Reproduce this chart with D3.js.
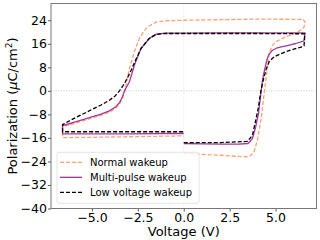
<!DOCTYPE html>
<html>
<head>
<meta charset="utf-8">
<script src="https://cdn.jsdelivr.net/npm/d3@7"></script>
<style>
  body { margin: 0; background: #fff; }
  svg { display: block; font-family: "DejaVu Sans", sans-serif; }
</style>
</head>
<body>
<div id="chart"></div>
<script>
// Normal wakeup (orange dashed)
const normalV = [0, 1, 2, 3, 3.45, 3.6, 3.83, 4.01, 4.2, 4.38, 4.47, 4.65, 4.8, 5.01, 5.55, 6.1, 6.46, 6.55, 6.6, 6.5,
  4, 2, 0, -1, -1.5, -1.96, -2.2, -2.42, -2.69, -2.96, -3.1, -3.2, -3.35, -3.55, -3.8, -4.05, -4.5, -4.96, -5.4, -5.86, -6.2, -6.6,
  -6.6, -5, -3, -1, 0];
const normalP = [-21.3, -21.6, -21.9, -22.3, -22.4, -22.2, -20.7, -16.8, -10, -0.9, 3.6, 12.7, 15.2, 16.7, 18.4, 19.5, 21.2, 21.6, 23.5, 24.3,
  24.4, 24.2, 24.0, 23.8, 23.4, 21.8, 20, 17.8, 13.3, 7.6, 3.5, 0, -2.8, -4.9, -6.3, -7.2, -8.3, -9.2, -10.0, -10.9, -11.5, -12.1,
  -15.9, -15.8, -15.6, -15.4, -15.3];

// Multi-pulse wakeup (purple solid)
const multiV = [0, 1, 2, 3, 3.5, 3.74, 3.92, 4.07, 4.2, 4.29, 4.38, 4.47, 4.55, 4.65, 4.83, 5.05, 5.37, 5.7, 6.1, 6.55, 6.6,
  6, 4, 2, 0, -1, -1.5, -1.88, -2.33, -2.69, -2.96, -3.1, -3.23, -3.35, -3.5, -3.7, -4.05, -4.5, -4.96, -5.4, -5.86, -6.2, -6.6,
  -6.6, -5, -3, -1, 0];
const multiP = [-17.9, -18.0, -18.1, -18.1, -17.9, -16.2, -12.2, -7.7, -0.9, 3.6, 6.5, 9, 11, 12.5, 13.8, 14.5, 15, 15.5, 16.1, 17, 19.7,
  19.7, 19.7, 19.7, 19.6, 19.6, 19.3, 17.8, 14.4, 8.7, 3.1, 1.5, 0, -2.2, -4.0, -5.4, -6.8, -7.9, -8.8, -9.6, -10.5, -11.1, -11.8,
  -14.6, -14.6, -14.6, -14.5, -14.5];

// Low voltage wakeup (black dashed)
const lowV = [0, 2, 3.47, 3.74, 3.92, 4.07, 4.2, 4.35, 4.5, 4.65, 4.92, 5.55, 6.0, 6.46, 6.55, 6.6,
  4, 2, 0, -1, -1.5, -1.88, -2.33, -2.69, -2.85, -3.05, -3.25, -3.5, -3.75, -4.05, -4.5, -4.96, -5.4, -5.86, -6.2, -6.6,
  -6.6, -5, -3, -1, 0];
const lowP = [-17.6, -17.6, -17.2, -15.1, -10, -5.5, 0, 4.2, 7.5, 9.9, 11.6, 13.3, 14.2, 15, 15.3, 19.4,
  19.5, 19.5, 19.5, 19.5, 19.2, 17.8, 14.4, 9.5, 7.2, 4.6, 2.3, 0, -1.8, -3.2, -4.8, -6.2, -7.6, -9.0, -10.1, -11.5,
  -13.9, -13.9, -13.9, -13.9, -13.9];

const xTicks = [-5, -2.5, 0, 2.5, 5];
const yTicks = [-40, -32, -24, -16, -8, 0, 8, 16, 24];

const series = [
  { name: "Normal wakeup", v: normalV, p: normalP, color: "#ffa072", dash: "4,2", width: 1.3 },
  { name: "Multi-pulse wakeup", v: multiV, p: multiP, color: "#a13a98", dash: null, width: 1.3 },
  { name: "Low voltage wakeup", v: lowV, p: lowP, color: "#000000", dash: "4,2", width: 1.3 }
];

const W = 320, H = 240;
const margin = { top: 3.5, right: 3.5, bottom: 31.5, left: 51 };
const width = W - margin.left - margin.right,
      height = H - margin.top - margin.bottom;

const svg = d3.select("#chart").append("svg")
  .attr("width", W).attr("height", H);

const g = svg.append("g")
  .attr("transform", `translate(${margin.left},${margin.top})`);

const x = d3.scaleLinear().domain([-7.23, 7.23]).range([0, width]);
const y = d3.scaleLinear().domain([-40, 29.7]).range([height, 0]);

// reference lines at zero
g.append("line")
  .attr("x1", 0).attr("x2", width).attr("y1", y(0)).attr("y2", y(0))
  .attr("stroke", "#bbb").attr("stroke-width", 0.8).attr("stroke-dasharray", "1,1.5");
g.append("line")
  .attr("x1", x(0)).attr("x2", x(0)).attr("y1", 0).attr("y2", height)
  .attr("stroke", "#ddd").attr("stroke-width", 0.8).attr("stroke-dasharray", "1,1.5");

const line = d3.line().x(d => x(d[0])).y(d => y(d[1]));

series.forEach(s => {
  const pts = s.v.map((v, i) => [v, s.p[i]]);
  g.append("path")
    .datum(pts)
    .attr("d", line)
    .attr("fill", "none")
    .attr("stroke", s.color)
    .attr("stroke-width", s.width)
    .attr("stroke-dasharray", s.dash)
    .attr("stroke-linejoin", "round");
});

// axes
const xAxis = g.append("g")
  .attr("transform", `translate(0,${height})`)
  .call(d3.axisBottom(x).tickValues(xTicks).tickSize(3).tickPadding(1.5)
    .tickFormat(d => d3.format(".1f")(d).replace("-", "\u2212")));
const yAxis = g.append("g")
  .call(d3.axisLeft(y).tickValues(yTicks).tickSize(3).tickPadding(1)
    .tickFormat(d => String(d).replace("-", "\u2212")));

[xAxis, yAxis].forEach(a => {
  a.select(".domain").remove();
  a.selectAll("line").attr("stroke", "#333").attr("stroke-width", 0.8);
  a.selectAll("text").attr("fill", "#000").style("font-size", "12.5px")
    .style("font-family", "'DejaVu Sans', sans-serif");
});

// frame
g.append("rect")
  .attr("x", 0).attr("y", 0).attr("width", width).attr("height", height)
  .attr("fill", "none").attr("stroke", "#777").attr("stroke-width", 1);

// legend
const legend = g.append("g").attr("transform", `translate(6, ${y(-20.9)})`);
legend.append("rect")
  .attr("x", 0).attr("y", 0).attr("width", 142).attr("height", 51).attr("rx", 2)
  .attr("fill", "#fff").attr("fill-opacity", 0.8)
  .attr("stroke", "#ddd").attr("stroke-width", 0.8);
series.forEach((s, i) => {
  const row = legend.append("g").attr("transform", `translate(0, ${10 + i * 15})`);
  row.append("line")
    .attr("x1", 3).attr("x2", 25).attr("y1", 0).attr("y2", 0)
    .attr("stroke", s.color).attr("stroke-width", s.width)
    .attr("stroke-dasharray", s.dash);
  row.append("text")
    .attr("x", 33).attr("y", 0).attr("dy", "0.35em")
    .style("font-size", "10px").attr("fill", "#000")
    .text(s.name);
});

// axis labels
svg.append("text")
  .attr("x", margin.left + width / 2).attr("y", 236)
  .attr("text-anchor", "middle").style("font-size", "13px")
  .text("Voltage (V)");

const yl = svg.append("text")
  .attr("transform", `translate(17,${margin.top + height / 2}) rotate(-90)`)
  .attr("text-anchor", "middle").style("font-size", "13px");
yl.append("tspan").text("Polarization (");
yl.append("tspan").attr("font-style", "italic").text("\u03bc");
yl.append("tspan").text("C/cm");
yl.append("tspan").attr("dy", "-5").style("font-size", "9px").text("2");
yl.append("tspan").attr("dy", "5").text(")");
</script>
</body>
</html>
